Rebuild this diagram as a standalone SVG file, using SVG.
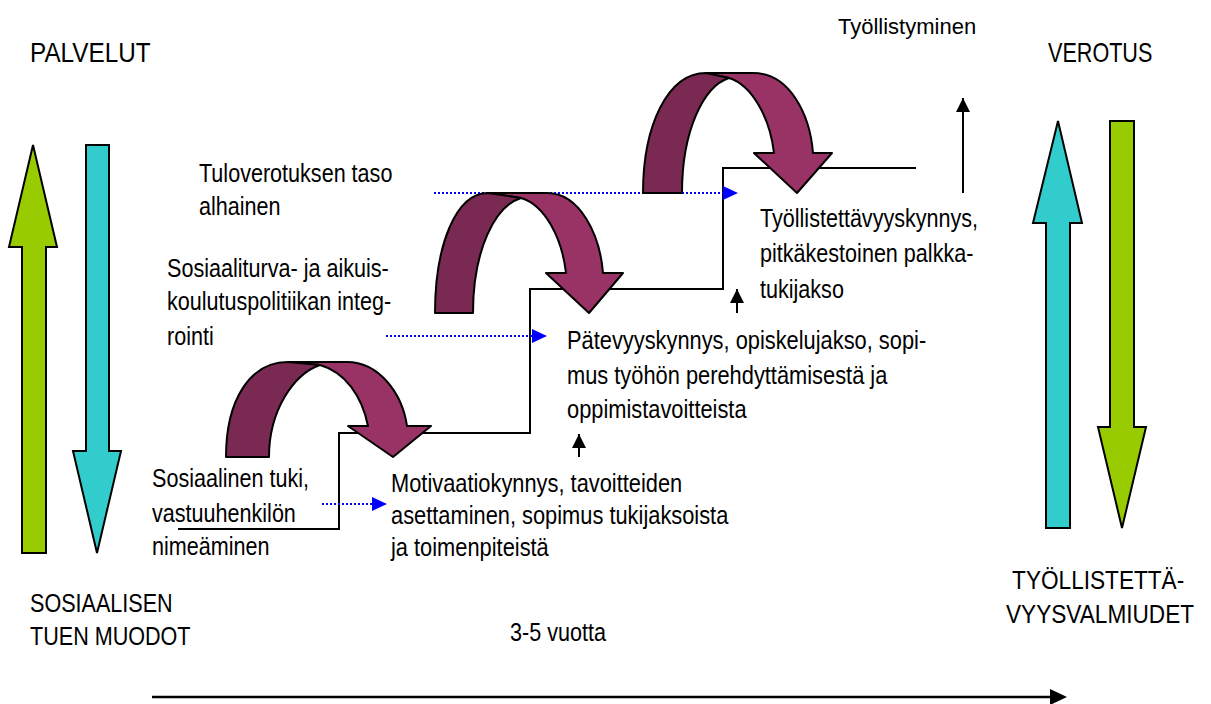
<svg xmlns="http://www.w3.org/2000/svg" width="1211" height="704" viewBox="0 0 1211 704">
<defs>
<style>
.t{font-family:"Liberation Sans",Arial,sans-serif;font-size:26px;fill:#000}
.big{font-family:"Liberation Sans",Arial,sans-serif;font-size:27px;fill:#000}
.sm{font-family:"Liberation Sans",Arial,sans-serif;font-size:22px;fill:#000}
.bar{stroke:#000;stroke-width:2}
.g{fill:#99CC00}
.c{fill:#33CCCC}
.dk{fill:#7A2A52;stroke:#000;stroke-width:2;stroke-linejoin:round}
.lt{fill:#993366;stroke:#000;stroke-width:2;stroke-linejoin:round}
.step{fill:none;stroke:#000;stroke-width:2}
.dot{stroke:#0000FF;stroke-width:2;stroke-dasharray:2 2;fill:none}
.blk{stroke:#000;stroke-width:2;fill:none}
</style>
<marker id="bt" viewBox="0 0 15 14" refX="0" refY="7" markerWidth="15" markerHeight="14" markerUnits="userSpaceOnUse" orient="auto">
<path d="M0,0 L15,7 L0,14 Z" fill="#0000FF"/>
</marker>
<marker id="ka" viewBox="0 0 14 14" refX="14" refY="7" markerWidth="14" markerHeight="14" markerUnits="userSpaceOnUse" orient="auto">
<path d="M0,0 L14,7 L0,14 Z" fill="#000"/>
</marker>
</defs>
<rect width="1211" height="704" fill="#fff"/>

<g id="left-arrows">
<polygon class="g bar" points="33,145 57,247 46,247 46,553 22,553 22,247 9,247"/>
<polygon class="c bar" points="86,145 109,145 109,451 121,451 97,553 73,451 86,451"/>
</g>
<g id="right-arrows">
<polygon class="c bar" points="1058,121 1082,223 1070,223 1070,528 1046,528 1046,223 1033,223"/>
<polygon class="g bar" points="1110,121 1134,121 1134,427 1146,427 1122,528 1098,427 1110,427"/>
</g>

<g id="connectors">
<polyline class="step" points="178,529 339,529 339,433 530,433 530,289 723,289 723,168 916,168"/>
<line class="dot" x1="322" y1="504" x2="372" y2="504" marker-end="url(#bt)"/>
<line class="dot" x1="386" y1="336" x2="532" y2="336" marker-end="url(#bt)"/>
<line class="dot" x1="434" y1="193" x2="723" y2="193" marker-end="url(#bt)"/>
<line class="blk" x1="579" y1="457" x2="579" y2="434" marker-end="url(#ka)"/>
<line class="blk" x1="737" y1="313" x2="737" y2="289" marker-end="url(#ka)"/>
<line class="blk" x1="963" y1="193" x2="963" y2="98" marker-end="url(#ka)"/>
<line x1="152" y1="697" x2="1052" y2="697" stroke="#000" stroke-width="2.5"/>
<path d="M1050,689 L1067,697 L1050,705 Z" fill="#000"/>
</g>

<g id="curve1">
<path class="lt" d="M288,362 L347,362 C378,362 402,392 407,426 L431,426 L393,457 L348,426 L368,426 C362,396 345,372 320,365 Z"/>
<path class="dk" d="M226,457 C226,400 250,362 288,362 L320,365 C294,374 269,410 269,457 Z"/>
</g>
<g id="curve2">
<path class="lt" d="M488,193 L547,193 C580,193 600,235 603,273 L623,273 L589,313 L546,273 L566,273 C562,238 545,205 521,198 Z"/>
<path class="dk" d="M435,313 C435,245 456,193 488,193 L521,198 C495,206 473,250 473,313 Z"/>
</g>
<g id="curve3">
<path class="lt" d="M706,73 L753,73 C790,73 810,115 813,153 L832,153 L797,193 L754,153 L774,153 C770,118 752,85 729,78 Z"/>
<path class="dk" d="M643,193 C643,125 668,73 706,73 L729,78 C704,86 682,130 682,193 Z"/>
</g>

<g id="label-palvelut"><text class="big" transform="translate(30,62) scale(0.9,1)">PALVELUT</text></g>
<g id="label-verotus"><text class="big" transform="translate(1048,62) scale(0.8,1)">VEROTUS</text></g>
<g id="label-tyollistyminen"><text class="sm" transform="translate(838,34) scale(1,1)">Työllistyminen</text></g>

<g id="node-tulovero"><text class="t" transform="translate(199,182) scale(0.83,1)"><tspan x="0" y="0">Tuloverotuksen taso</tspan><tspan x="0" y="33">alhainen</tspan></text></g>
<g id="node-sosiaaliturva"><text class="t" transform="translate(167,277) scale(0.83,1)"><tspan x="0" y="0">Sosiaaliturva- ja aikuis-</tspan><tspan x="0" y="33">koulutuspolitiikan integ-</tspan><tspan x="0" y="68">rointi</tspan></text></g>
<g id="node-sosiaalinen"><text class="t" transform="translate(152,487) scale(0.83,1)"><tspan x="0" y="0">Sosiaalinen tuki,</tspan><tspan x="0" y="35">vastuuhenkilön</tspan><tspan x="0" y="68">nimeäminen</tspan></text></g>
<g id="node-motivaatio"><text class="t" transform="translate(391,492) scale(0.84,1)"><tspan x="0" y="0">Motivaatiokynnys, tavoitteiden</tspan><tspan x="0" y="32">asettaminen, sopimus tukijaksoista</tspan><tspan x="0" y="64">ja toimenpiteistä</tspan></text></g>
<g id="node-patevyys"><text class="t" transform="translate(567,349) scale(0.84,1)"><tspan x="0" y="0">Pätevyyskynnys, opiskelujakso, sopi-</tspan><tspan x="0" y="35">mus työhön perehdyttämisestä ja</tspan><tspan x="0" y="69">oppimistavoitteista</tspan></text></g>
<g id="node-tyollistettavyys"><text class="t" transform="translate(760,227) scale(0.83,1)"><tspan x="0" y="0">Työllistettävyyskynnys,</tspan><tspan x="0" y="35">pitkäkestoinen palkka-</tspan><tspan x="0" y="71">tukijakso</tspan></text></g>

<g id="label-sosiaalisen"><text class="t" transform="translate(30,612) scale(0.83,1)"><tspan x="0" y="0">SOSIAALISEN</tspan><tspan x="0" y="33">TUEN MUODOT</tspan></text></g>
<g id="label-valmiudet"><text class="t" transform="translate(1006,589) scale(0.87,1)"><tspan x="7" y="0">TYÖLLISTETTÄ-</tspan><tspan x="0" y="34">VYYSVALMIUDET</tspan></text></g>
<g id="label-vuotta"><text class="t" transform="translate(510,641) scale(0.83,1)">3-5 vuotta</text></g>
</svg>
